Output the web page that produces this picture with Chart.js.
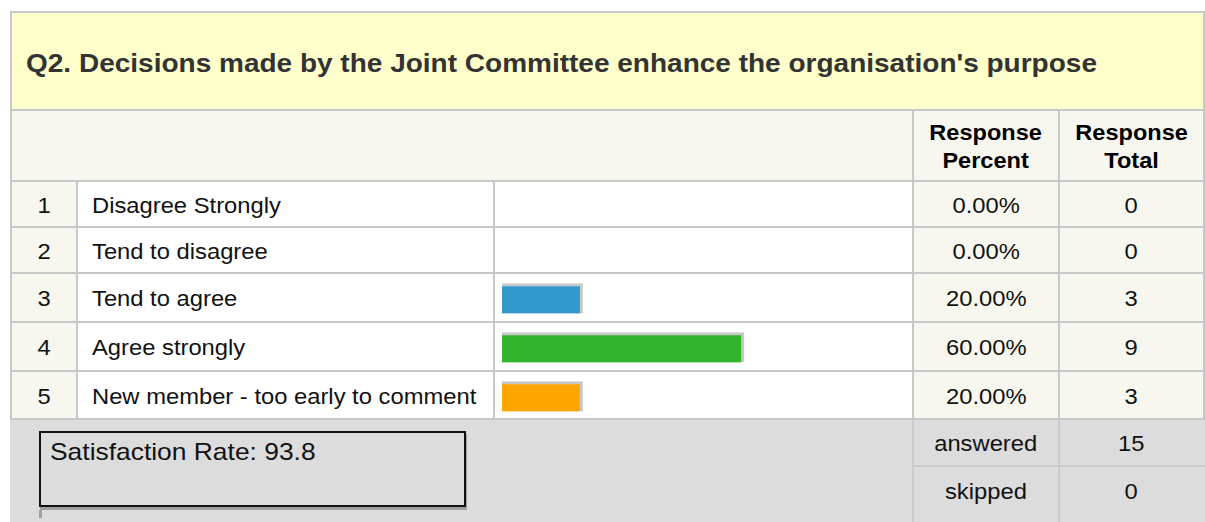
<!DOCTYPE html>
<html>
<head>
<meta charset="utf-8">
<script src="https://cdn.jsdelivr.net/npm/chart.js@4.4.1/dist/chart.umd.min.js"></script>
<style>
  body { margin: 0; background: #fff; font-family: "Liberation Sans", Arial, sans-serif; }
  #page { position: relative; width: 1205px; height: 522px; overflow: hidden; background: #fff; }
  .abs { position: absolute; }
  .cell { position: absolute; display: flex; align-items: center; box-sizing: border-box; }
  .c { justify-content: center; }
  .txt { display: inline-block; white-space: nowrap; }
  .row { font-size: 22px; color: #111; padding-top: 3px; }
  .row .txt { transform: scaleX(1.08); }
  .c .txt { transform-origin: center; }
  .l .txt { transform-origin: left center; }
</style>
</head>
<body>
<div id="page">
  <div class="abs" style="left:10px;top:11px;width:1195px;height:409px;background:#c8c8c8"></div>
  <div class="cell l" style="left:12px;top:13px;width:1191px;height:96px;background:#ffffcc;padding-left:14px;padding-top:5px">
    <span class="txt" id="title" style="font-size:26px;font-weight:bold;color:#333;transform:scaleX(1.077)"></span>
  </div>
  <div class="cell" style="left:12px;top:111px;width:900px;height:69px;background:#f7f7f0"></div>
  <div class="cell c" style="left:914px;top:111px;width:144px;height:69px;background:#f7f7f0;padding-top:2px">
    <span class="txt" style="font-size:22px;font-weight:bold;line-height:28px;text-align:center;transform:scaleX(1.07)">Response<br>Percent</span>
  </div>
  <div class="cell c" style="left:1060px;top:111px;width:143px;height:69px;background:#f7f7f0;padding-top:2px">
    <span class="txt" style="font-size:22px;font-weight:bold;line-height:28px;text-align:center;transform:scaleX(1.07)">Response<br>Total</span>
  </div>
  <div id="rows"></div>

  <div class="abs" style="left:10px;top:420px;width:1195px;height:102px;background:#dcdcdc"></div>
  <div class="abs" style="left:912px;top:420px;width:2px;height:102px;background:#cbcbcb"></div>
  <div class="abs" style="left:1058px;top:420px;width:2px;height:102px;background:#cbcbcb"></div>
  <div class="abs" style="left:914px;top:465px;width:291px;height:2px;background:#cbcbcb"></div>
  <div class="cell c row" style="left:914px;top:420px;width:144px;height:45px"><span class="txt">answered</span></div>
  <div class="cell c row" style="left:1060px;top:420px;width:143px;height:45px"><span class="txt" id="answered"></span></div>
  <div class="cell c row" style="left:914px;top:467px;width:144px;height:46px"><span class="txt">skipped</span></div>
  <div class="cell c row" style="left:1060px;top:467px;width:143px;height:46px"><span class="txt" id="skipped"></span></div>

  <div class="abs" style="left:39px;top:431px;width:427px;height:76px;box-sizing:border-box;border:2px solid #111;background:#dcdcdc;box-shadow:1px 3px 0 #a0a0a0">
    <div class="abs" style="left:9px;top:5px;font-size:24px;line-height:28px;color:#111">
      <span class="txt" id="satisfaction" style="transform:scaleX(1.1);transform-origin:left center"></span>
    </div>
  </div>
  <div class="abs" style="left:39px;top:510px;width:3px;height:8px;background:#a0a0a0"></div>

  <canvas id="bars" class="abs" width="417" height="245" style="left:495px;top:176px"></canvas>
</div>

<script>
// survey data
const title = "Q2. Decisions made by the Joint Committee enhance the organisation's purpose";
const categories = ['Disagree Strongly', 'Tend to disagree', 'Tend to agree', 'Agree strongly', 'New member - too early to comment'];
const percents = [0, 0, 20, 60, 20];
const totals = [0, 0, 3, 9, 3];
const answeredCount = 15;
const skippedCount = 0;
const satisfactionRate = 93.8;

const barColors = ['#3399cc', '#3399cc', '#3399cc', '#33b52d', '#ffa500'];
const rowTops = [182, 228, 274, 323, 372];
const rowHeights = [44, 44, 47, 47, 46];

document.getElementById('title').textContent = title;
document.getElementById('answered').textContent = answeredCount;
document.getElementById('skipped').textContent = skippedCount;
document.getElementById('satisfaction').textContent = 'Satisfaction Rate: ' + satisfactionRate;

// build table rows
var rows = document.getElementById('rows');
categories.forEach((cat, i) => {
  var top = rowTops[i], h = rowHeights[i];
  var cells = [
    [12, 64, '#f7f7f0', 'c', String(i + 1)],
    [78, 415, '#fff', 'l', cat],
    [495, 417, '#fff', 'c', ''],
    [914, 144, '#f7f7f0', 'c', percents[i].toFixed(2) + '%'],
    [1060, 143, '#f7f7f0', 'c', String(totals[i])]
  ];
  cells.forEach(c => {
    var d = document.createElement('div');
    d.className = 'cell row ' + c[3];
    d.style.cssText = 'left:' + c[0] + 'px;top:' + top + 'px;width:' + c[1] + 'px;height:' + h + 'px;background:' + c[2] + (c[3] == 'l' ? ';padding-left:14px' : '');
    if (c[4] !== '') {
      var s = document.createElement('span');
      s.className = 'txt';
      s.textContent = c[4];
      d.appendChild(s);
    }
    rows.appendChild(d);
  });
});

var ctx = document.getElementById('bars').getContext('2d');
var barChart = new Chart(ctx, {
  type: 'bar',
  data: {
    labels: categories,
    datasets: [{
      data: percents,
      backgroundColor: barColors,
      borderColor: '#c8c8c8',
      borderWidth: { top: 3, right: 3, bottom: 0, left: 0 },
      borderSkipped: false,
      barThickness: 30
    }]
  },
  options: {
    indexAxis: 'y',
    responsive: false,
    animation: false,
    devicePixelRatio: 1,
    layout: { padding: { left: 7, right: 7, top: 0, bottom: 0 } },
    plugins: { legend: { display: false }, tooltip: { enabled: false } },
    scales: {
      x: { display: false, min: 0, max: 100 },
      y: { display: false }
    }
  }
});
</script>
</body>
</html>
